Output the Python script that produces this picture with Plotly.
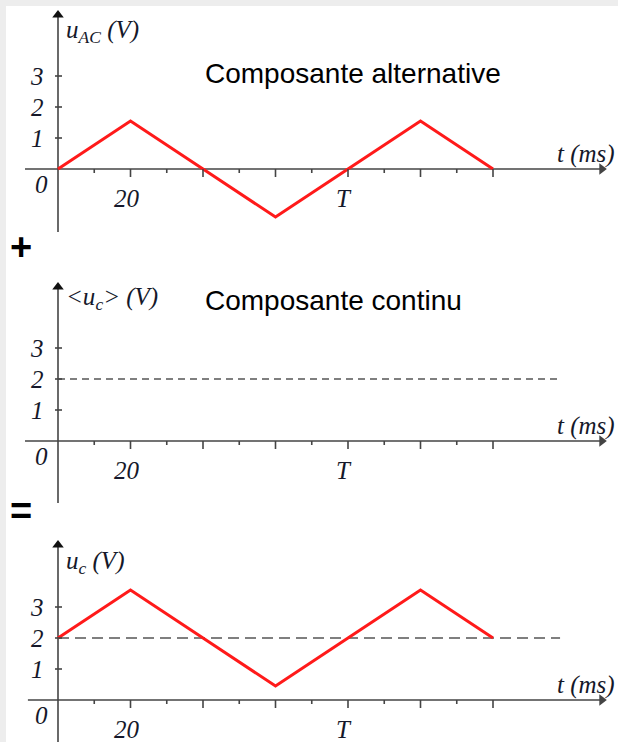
import plotly.graph_objects as go

# ---------------- data ----------------
t_points = [0, 20, 40, 60, 80, 100, 120]            # ms
u_ac = [0, 1.55, 0, -1.55, 0, 1.55, 0]               # V, alternating component
u_dc_level = 2.0                                     # V, mean value
u_dc_t = [0, 138.5]                                  # extent of dashed line (ms)
u_c = [2, 3.55, 2, 0.45, 2, 3.55, 2]                 # V, total signal
y_tick_vals = [1, 2, 3]
y_tick_text = ["1", "2", "3"]
x_major_ticks = [20, 40, 60, 80, 100, 120]
x_minor_ticks = [10, 30, 50, 70, 90, 110]
x_labels = [(20, "20"), (80, "T")]
y_titles = ["u<sub>AC</sub> (V)", "&lt;u<sub>c</sub>&gt; (V)", "u<sub>c</sub> (V)"]
panel_titles = ["Composante alternative", "Composante continu", None]
ops = ["+", "="]

# ---------------- geometry (pixels) ----------------
W, H = 618, 742
X0_PX = 58.0          # pixel of t = 0
PX_PER_MS = 3.625
PX_PER_V = 31.0
zeros_px = [169, 441, 700]
bands_px = [(0, 250), (250, 512), (512, 742)]
yaxis_ext = [(-2.03, 5.13), (-2.0, 5.13), (-1.6, 5.16)]
xaxis_start = [-9.1, -9.1, -8.3]
x_tip = 151.4
HEAD = 10             # arrow head marker size (px)

INK = "#444444"
TXT = "#15182a"
SERIF = "Liberation Serif, Times New Roman, serif"
SANS = "Liberation Sans, Arial, sans-serif"

fig = go.Figure()

xr = [-X0_PX / PX_PER_MS, (W - X0_PX) / PX_PER_MS]
layout = dict(width=W, height=H, autosize=False,
              margin=dict(l=0, r=0, t=0, b=0),
              paper_bgcolor="white", plot_bgcolor="white",
              showlegend=False)
for i, ((a, b), z) in enumerate(zip(bands_px, zeros_px)):
    n = "" if i == 0 else str(i + 1)
    layout["xaxis" + n] = dict(range=xr, domain=[0, 1], visible=False,
                               anchor="y" + n, fixedrange=True)
    layout["yaxis" + n] = dict(range=[(z - b) / PX_PER_V, (z - a) / PX_PER_V],
                               domain=[1 - b / H, 1 - a / H], visible=False,
                               anchor="x" + n, fixedrange=True)
fig.update_layout(**layout)

shapes = []
annotations = []

# light gray frame on top / left
shapes.append(dict(type="rect", xref="paper", yref="paper", x0=0, x1=1,
                   y0=1 - 6 / H, y1=1, line=dict(width=0), fillcolor="#ededed", layer="below"))
shapes.append(dict(type="rect", xref="paper", yref="paper", x0=0, x1=6 / W,
                   y0=0, y1=1, line=dict(width=0), fillcolor="#ededed", layer="below"))

r = HEAD / 2.0
for i in range(3):
    n = "" if i == 0 else str(i + 1)
    xa, ya = "x" + n, "y" + n
    # x axis line + arrow head
    fig.add_trace(go.Scatter(x=[xaxis_start[i], x_tip - 4 / PX_PER_MS], y=[0, 0], mode="lines",
                             xaxis=xa, yaxis=ya, line=dict(color=INK, width=1.6), hoverinfo="skip"))
    fig.add_trace(go.Scatter(x=[x_tip - r / PX_PER_MS], y=[0], mode="markers", xaxis=xa, yaxis=ya,
                             marker=dict(symbol="triangle-right", size=HEAD, color=INK,
                                         line=dict(width=0)), hoverinfo="skip"))
    # y axis line + arrow head
    top = yaxis_ext[i][1]
    fig.add_trace(go.Scatter(x=[0, 0], y=[yaxis_ext[i][0], top - 4 / PX_PER_V], mode="lines",
                             xaxis=xa, yaxis=ya, line=dict(color=INK, width=1.6), hoverinfo="skip"))
    fig.add_trace(go.Scatter(x=[0], y=[top - r / PX_PER_V], mode="markers", xaxis=xa, yaxis=ya,
                             marker=dict(symbol="triangle-up", size=HEAD, color="#111111",
                                         line=dict(width=0)), hoverinfo="skip"))
    # x ticks
    for t in x_major_ticks:
        shapes.append(dict(type="line", xref=xa, yref=ya, x0=t, x1=t, y0=0, y1=-8 / PX_PER_V,
                           line=dict(color=INK, width=1.6)))
    for t in x_minor_ticks:
        shapes.append(dict(type="line", xref=xa, yref=ya, x0=t, x1=t, y0=0, y1=-4 / PX_PER_V,
                           line=dict(color=INK, width=1.6)))
    # y ticks
    for v, s in zip(y_tick_vals, y_tick_text):
        shapes.append(dict(type="line", xref=xa, yref=ya, x0=-3 / PX_PER_MS, x1=4 / PX_PER_MS,
                           y0=v, y1=v, line=dict(color=INK, width=1.6)))
        annotations.append(dict(x=0, y=v, xref=xa, yref=ya, text="<i>%s</i>" % s, showarrow=False,
                                xanchor="center", yanchor="middle", xshift=-21,
                                font=dict(family=SERIF, size=25, color=TXT)))
    annotations.append(dict(x=0, y=0, xref=xa, yref=ya, text="<i>0</i>", showarrow=False,
                            xanchor="center", yanchor="middle", xshift=-17, yshift=-15,
                            font=dict(family=SERIF, size=25, color=TXT)))
    for t, s in x_labels:
        annotations.append(dict(x=t, y=0, xref=xa, yref=ya, text="<i>%s</i>" % s, showarrow=False,
                                xanchor="center", yanchor="middle", xshift=-4, yshift=-29,
                                font=dict(family=SERIF, size=25, color=TXT)))
    annotations.append(dict(x=0, y=0, xref=xa, yref=ya, text="<i>t (ms)</i>", showarrow=False,
                            xanchor="right", yanchor="middle", xshift=(617 - X0_PX), yshift=15,
                            font=dict(family=SERIF, size=25, color=TXT)))
    # y-axis title
    annotations.append(dict(x=0, y=0, xref=xa, yref=ya, text="<i>%s</i>" % y_titles[i],
                            showarrow=False, xanchor="left", yanchor="middle",
                            xshift=6, yshift=[138, 143, 138][i],
                            font=dict(family=SERIF, size=25, color=TXT)))
    if panel_titles[i]:
        annotations.append(dict(x=40, y=0, xref=xa, yref=ya, text=panel_titles[i], showarrow=False,
                                xanchor="left", yanchor="middle", yshift=[96, 141][i],
                                font=dict(family=SANS, size=28, color="#000000")))

# operators between panels
for s, ypx in zip(ops, [247, 511]):
    annotations.append(dict(x=21 / W, y=1 - ypx / H, xref="paper", yref="paper",
                            text="<b>%s</b>" % s, showarrow=False, xanchor="center", yanchor="middle",
                            font=dict(family=SANS, size=38, color="#000000")))

# dashed mean lines
fig.add_trace(go.Scatter(x=u_dc_t, y=[u_dc_level] * 2, mode="lines", xaxis="x2", yaxis="y2",
                         line=dict(color="#555555", width=1.5, dash="7px,5px"), hoverinfo="skip"))
fig.add_trace(go.Scatter(x=u_dc_t, y=[u_dc_level] * 2, mode="lines", xaxis="x3", yaxis="y3",
                         line=dict(color="#555555", width=1.5, dash="11px,6px"), hoverinfo="skip"))
# red waveforms
fig.add_trace(go.Scatter(x=t_points, y=u_ac, mode="lines", xaxis="x", yaxis="y",
                         line=dict(color="#ff1a1a", width=3), hoverinfo="skip"))
fig.add_trace(go.Scatter(x=t_points, y=u_c, mode="lines", xaxis="x3", yaxis="y3",
                         line=dict(color="#ff1a1a", width=3), hoverinfo="skip"))

fig.update_layout(shapes=shapes, annotations=annotations)
fig.write_html("out.html", config={"displayModeBar": False},
               post_script="document.body.style.margin='0';document.body.style.overflow='hidden';")
